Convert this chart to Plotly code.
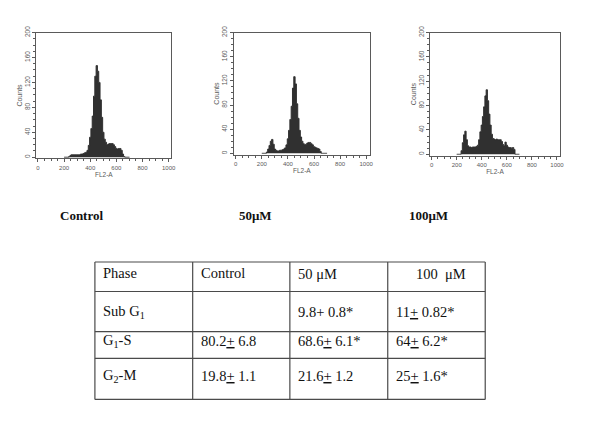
"""
Cell-cycle DNA histograms (FL2-A) for control and treated cells,
with the phase distribution table underneath.
"""

import plotly.graph_objects as go

# ---------------------------------------------------------------------------
# Data
# ---------------------------------------------------------------------------

CHANNELS = [200, 210, 220, 230, 240, 250, 260, 270, 280, 290,
            300, 310, 320, 330, 340, 350, 360, 370, 380, 390,
            400, 410, 420, 430, 440, 450, 460, 470, 480, 490,
            500, 510, 520, 530, 540, 550, 560, 570, 580, 590,
            600, 610, 620, 630, 640, 650, 660, 670, 680, 690, 700]

COUNTS_CONTROL = [0, 0, 0, 0, 1, 3, 4, 4, 4, 4,
                  4, 4, 4, 5, 5, 6, 7, 8, 11, 19,
                  32, 46, 66, 98, 130, 147, 138, 120, 92, 64,
                  40, 29, 24, 20, 21, 22, 22, 22, 20, 17,
                  14, 13, 14, 14, 11, 5, 1, 0, 0, 0, 0]

COUNTS_50UM = [0, 0, 0, 0, 2, 7, 13, 20, 23, 15,
               7, 5, 4, 4, 5, 5, 6, 7, 9, 14,
               24, 38, 56, 78, 108, 127, 115, 82, 58, 38,
               27, 20, 16, 14, 15, 17, 18, 18, 16, 14,
               11, 10, 9, 8, 7, 3, 0, 0, 0, 0, 0]

COUNTS_100UM = [0, 0, 0, 0, 6, 19, 32, 38, 24, 14,
                12, 12, 11, 12, 12, 12, 13, 15, 24, 37,
                48, 62, 78, 96, 106, 88, 66, 48, 33, 26,
                25, 24, 25, 24, 24, 24, 21, 16, 14, 20,
                15, 12, 11, 11, 10, 11, 8, 0, 0, 0, 0]

PANEL_LABELS = ["Control", "50μM", "100μM"]
X_TICKS = [0, 200, 400, 600, 800, 1000]
Y_TICKS = [0, 40, 80, 120, 160, 200]

TABLE_HEADER = ["Phase", "Control", "50 μM", "100  μM"]
PHASES = ["Sub G<sub>1</sub>", "G<sub>1</sub>-S", "G<sub>2</sub>-M"]
CONTROL_VALUES = ["", "80.2<u>+</u> 6.8", "19.8<u>+</u> 1.1"]
UM50_VALUES = ["9.8+ 0.8*", "68.6<u>+</u> 6.1*", "21.6<u>+</u> 1.2"]
UM100_VALUES = ["11<u>+</u> 0.82*", "64<u>+</u> 6.2*", "25<u>+</u> 1.6*"]

# ---------------------------------------------------------------------------
# Layout helpers (pixel -> paper)
# ---------------------------------------------------------------------------

W, H = 600, 423
AXIS_GREY = "#5a5a5a"
FILL = "#303030"
SANS = "Liberation Sans, Arial, sans-serif"
SERIF = "Liberation Serif, Times New Roman, serif"


def px(x):
    return x / W


def py(y):
    return 1 - y / H


# plot boxes in pixels: (left, right, top, bottom)
PANEL_BOXES = [(36.7, 172.7, 26, 154), (236, 372.7, 26, 150), (434, 564.3, 26, 151)]
PANEL_XRANGES = [[-12, 1020], [-13, 1026], [-10, 1021]]
LABEL_X = [81.7, 257.5, 432.5]

fig = go.Figure()

for i, (counts, box) in enumerate(zip([COUNTS_CONTROL, COUNTS_50UM, COUNTS_100UM], PANEL_BOXES)):
    n = "" if i == 0 else str(i + 1)
    fig.add_trace(
        go.Scatter(
            x=CHANNELS,
            y=counts,
            mode="lines",
            line=dict(color=FILL, width=1, shape="hvh"),
            fill="tozeroy",
            fillcolor=FILL,
            xaxis="x" + n,
            yaxis="y" + n,
            showlegend=False,
            hoverinfo="skip",
        )
    )
    left, right, top, bottom = box
    common = dict(
        showline=True,
        linecolor=AXIS_GREY,
        linewidth=1,
        mirror=True,
        ticks="outside",
        ticklen=3,
        tickwidth=1,
        tickcolor=AXIS_GREY,
        showgrid=False,
        zeroline=False,
        tickfont=dict(family=SANS, size=6, color=AXIS_GREY),
    )
    fig.update_layout(
        {
            "xaxis" + n: dict(
                common,
                domain=[px(left), px(right)],
                range=PANEL_XRANGES[i],
                tickvals=X_TICKS,
                anchor="y" + n,
                minor=dict(dtick=50, ticks="outside", ticklen=2, tickcolor=AXIS_GREY),
                title=dict(text="FL2-A", font=dict(family=SANS, size=6.5, color=AXIS_GREY),
                           standoff=1),
            ),
            "yaxis" + n: dict(
                common,
                domain=[py(bottom), py(top)],
                range=[-2, 200],
                tickvals=Y_TICKS,
                tickangle=-90,
                anchor="x" + n,
                minor=dict(dtick=10, ticks="outside", ticklen=2, tickcolor=AXIS_GREY),
                tickfont=dict(family=SANS, size=6.5, color=AXIS_GREY),
                title=dict(text="Counts", font=dict(family=SANS, size=7, color=AXIS_GREY),
                           standoff=0),
            ),
        }
    )
    fig.add_annotation(
        x=px(LABEL_X[i]), y=py(211.7), xref="paper", yref="paper",
        text="<b>" + PANEL_LABELS[i] + "</b>", showarrow=False,
        font=dict(family=SERIF, size=13, color="#111111"),
        xanchor="center", yanchor="middle",
    )

# ---------------------------------------------------------------------------
# Phase table
# ---------------------------------------------------------------------------

COL_EDGES = [95.7, 194.3, 292.3, 391, 489.3]
ROW_EDGES = [259.3, 289.3, 330, 357.3, 399]
ROW_TEXT_Y = [270, 310, 340, 375]
LINE = dict(color="#4a4a4a", width=1.2)

for x in COL_EDGES:
    fig.add_shape(type="line", xref="paper", yref="paper",
                  x0=px(x), x1=px(x), y0=py(ROW_EDGES[0]), y1=py(ROW_EDGES[-1]), line=LINE)
for y in ROW_EDGES:
    fig.add_shape(type="line", xref="paper", yref="paper",
                  x0=px(COL_EDGES[0]), x1=px(COL_EDGES[-1]), y0=py(y), y1=py(y), line=LINE)

rows = [TABLE_HEADER] + [list(r) for r in zip(PHASES, CONTROL_VALUES, UM50_VALUES, UM100_VALUES)]
for r, row in enumerate(rows):
    for c, text in enumerate(row):
        if not text:
            continue
        if r == 0 and c == 3:
            x, anchor = (COL_EDGES[3] + COL_EDGES[4]) / 2 + 5, "center"
        else:
            x, anchor = COL_EDGES[c] + 6.5, "left"
        y = ROW_TEXT_Y[r] + (2 if r == 0 and c >= 2 else 0)
        fig.add_annotation(
            x=px(x), y=py(y), xref="paper", yref="paper",
            text=text, showarrow=False, xanchor=anchor, yanchor="middle",
            font=dict(family=SERIF, size=14.5, color="#111111"),
        )

fig.update_layout(
    width=W,
    height=H,
    margin=dict(l=0, r=0, t=0, b=0),
    paper_bgcolor="white",
    plot_bgcolor="white",
    showlegend=False,
)

# page body has a default 8px margin; drop it so pixels line up
fig.write_html(
    "out.html",
    config={"displayModeBar": False},
    post_script="document.body.style.margin = '0';",
)
